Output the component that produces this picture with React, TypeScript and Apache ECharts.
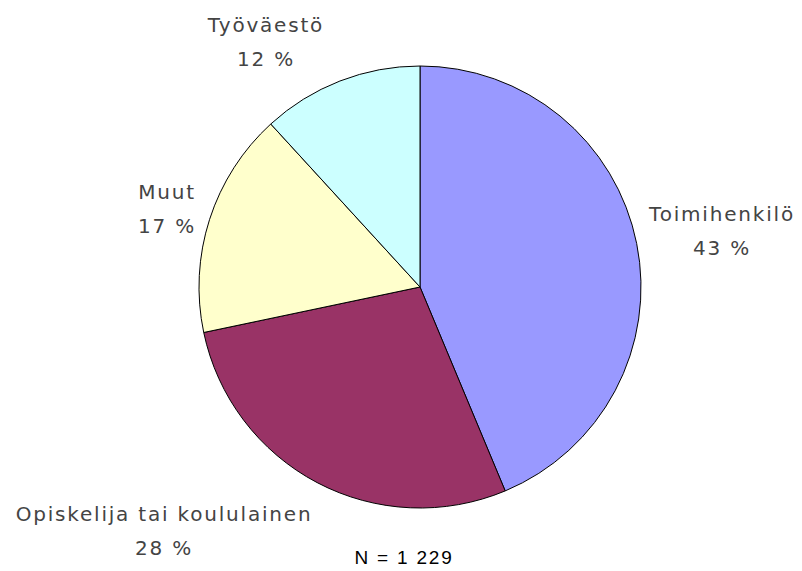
import React, { useEffect, useRef } from "react";
import * as echarts from "echarts";

const categories = ["Toimihenkilö", "Opiskelija tai koululainen", "Muut", "Työväestö"];
const shares = [43.7, 28.0, 16.5, 11.8];
const percentLabels = [43, 28, 17, 12];
const colors = ["#9999FF", "#993366", "#FFFFCC", "#CCFFFF"];
const sampleSize = "1 229";

// label block centers (layout only)
const labelPositions: [number, number][] = [
  [722, 231],
  [164, 531],
  [167, 209],
  [266, 42],
];

export default function App() {
  const ref = useRef<HTMLDivElement>(null);
  useEffect(() => {
    if (!ref.current) return;
    const chart = echarts.init(ref.current, undefined, { renderer: "svg" });
    chart.setOption({
      animation: false,
      backgroundColor: "#ffffff",
      series: [
        {
          type: "pie",
          center: [420, 287],
          radius: 221,
          startAngle: 90,
          clockwise: true,
          avoidLabelOverlap: false,
          itemStyle: { borderColor: "#000000", borderWidth: 1 },
          emphasis: { disabled: true },
          label: {
            show: true,
            position: "outside",
            formatter: (p: any) => `${p.name}\n${percentLabels[p.dataIndex]} %`,
            fontFamily: "DejaVu Sans",
            fontSize: 20,
            lineHeight: 34,
            color: "#444444",
            align: "center",
          },
          labelLine: { show: false },
          labelLayout: (params: any) => {
            const [x, y] = labelPositions[params.dataIndex];
            return { x, y, align: "center", verticalAlign: "middle" };
          },
          data: categories.map((name, i) => ({
            name,
            value: shares[i],
            itemStyle: { color: colors[i] },
          })),
        },
      ],
      graphic: [
        {
          type: "text",
          x: 404,
          y: 557,
          style: {
            text: `N = ${sampleSize}`,
            fontFamily: "Liberation Sans",
            fontSize: 19,
            fill: "#000000",
            textAlign: "center",
            textVerticalAlign: "middle",
          },
        },
      ],
    });
    return () => chart.dispose();
  }, []);
  return (
    <div
      ref={ref}
      style={{
        position: "fixed",
        left: 0,
        top: 0,
        width: 802,
        height: 571,
        letterSpacing: "1.8px",
      }}
    />
  );
}
